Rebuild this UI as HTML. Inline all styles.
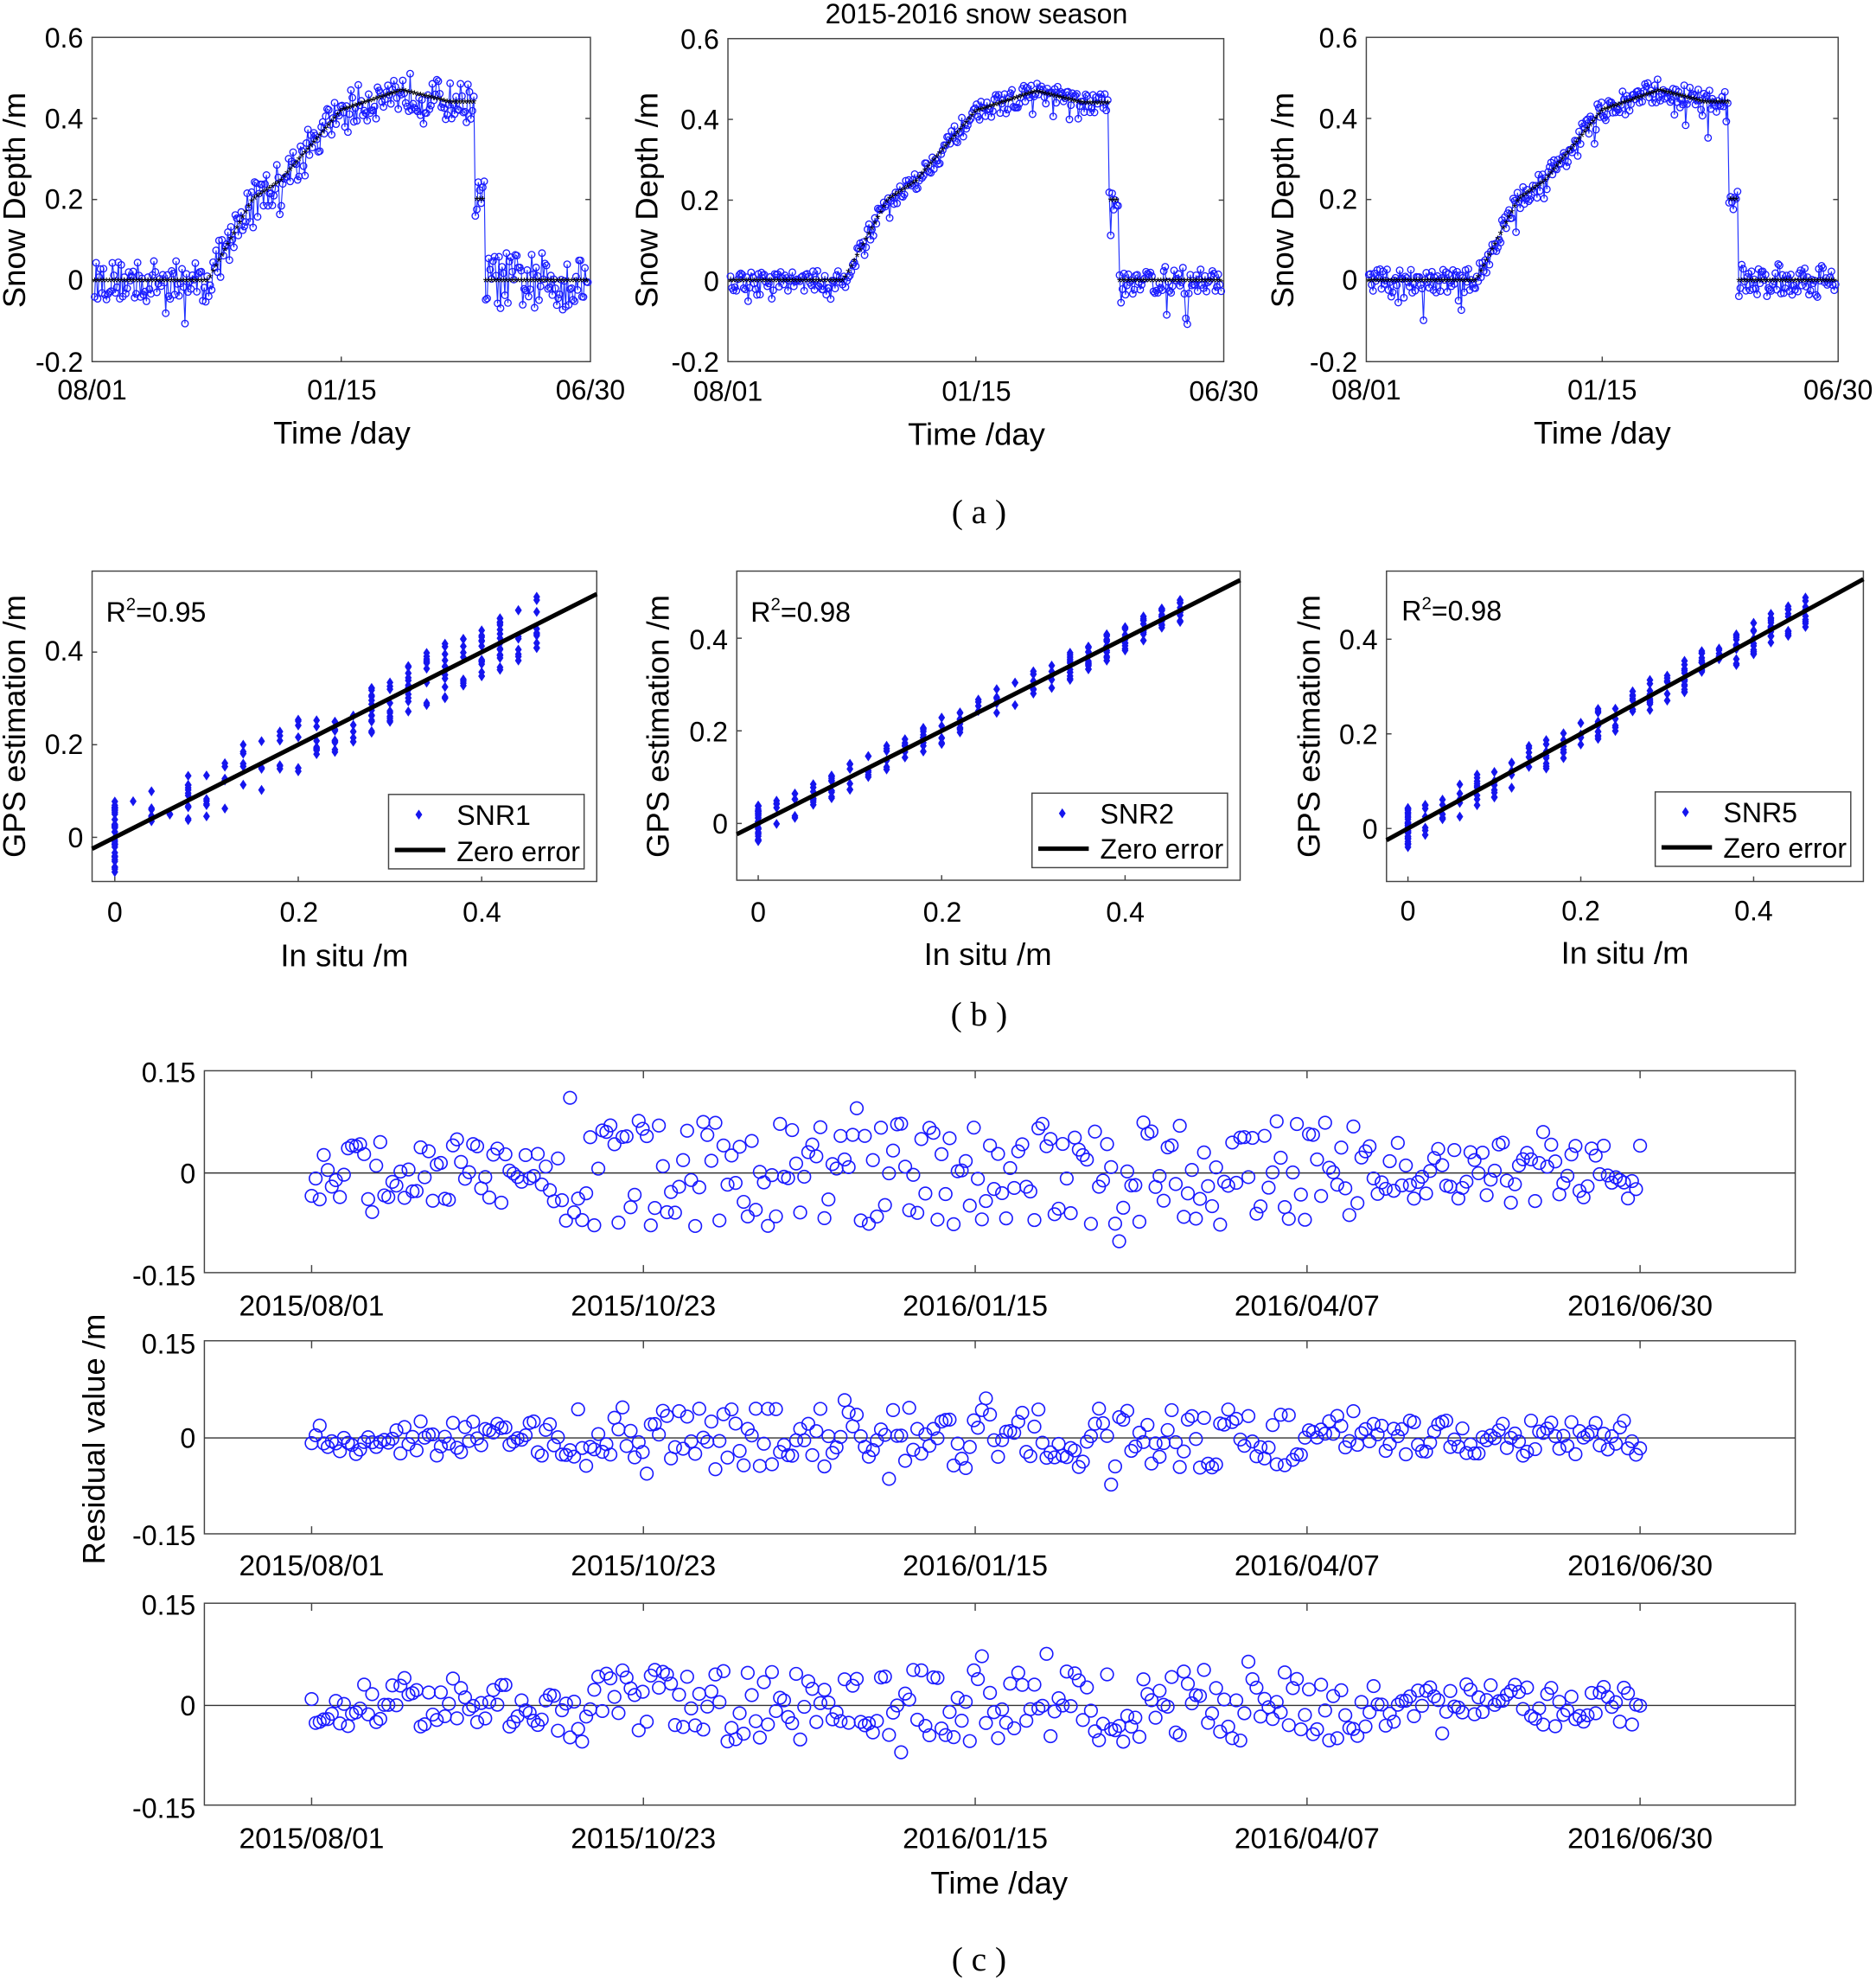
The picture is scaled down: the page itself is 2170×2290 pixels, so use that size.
<!DOCTYPE html>
<html><head><meta charset="utf-8"><style>
html,body{margin:0;padding:0;background:#fff}
svg{display:block}
text{font-family:"Liberation Sans",sans-serif;fill:#000}
.s{font-family:"Liberation Serif",serif}
</style></head><body>
<svg id="s" width="2170" height="2290" viewBox="0 0 1487 1568" xmlns="http://www.w3.org/2000/svg">
<g id="g"></g>
<g font-size="22">
<text x="774" y="18" text-anchor="middle">2015-2016 snow season</text>
<g text-anchor="end">
<text x="66" y="37">0.6</text><text x="66" y="101">0.4</text><text x="66" y="165">0.2</text><text x="66" y="229">0</text><text x="66" y="294">-0.2</text>
<text x="570" y="38">0.6</text><text x="570" y="102">0.4</text><text x="570" y="166">0.2</text><text x="570" y="230">0</text><text x="570" y="294">-0.2</text>
<text x="1076" y="37">0.6</text><text x="1076" y="101">0.4</text><text x="1076" y="165">0.2</text><text x="1076" y="229">0</text><text x="1076" y="294">-0.2</text>
</g>
<g text-anchor="middle">
<text x="73" y="316">08/01</text><text x="271" y="316">01/15</text><text x="468" y="316">06/30</text>
<text x="577" y="317">08/01</text><text x="774" y="317">01/15</text><text x="970" y="317">06/30</text>
<text x="1083" y="316">08/01</text><text x="1270" y="316">01/15</text><text x="1457" y="316">06/30</text>
<text x="271" y="351" font-size="25">Time /day</text><text x="774" y="352" font-size="25">Time /day</text><text x="1270" y="351" font-size="25">Time /day</text>
<text transform="translate(20,158) rotate(-90)" font-size="25">Snow Depth /m</text>
<text transform="translate(521,158) rotate(-90)" font-size="25">Snow Depth /m</text>
<text transform="translate(1025,158) rotate(-90)" font-size="25">Snow Depth /m</text>
<text x="776" y="414" class="s" font-size="27">( a )</text>
</g>
<g text-anchor="end">
<text x="66" y="523">0.4</text><text x="66" y="597">0.2</text><text x="66" y="671">0</text>
<text x="577" y="514">0.4</text><text x="577" y="587">0.2</text><text x="577" y="660">0</text>
<text x="1092" y="514">0.4</text><text x="1092" y="589">0.2</text><text x="1092" y="664">0</text>
</g>
<g text-anchor="middle">
<text x="91" y="730">0</text><text x="237" y="730">0.2</text><text x="382" y="730">0.4</text>
<text x="601" y="730">0</text><text x="747" y="730">0.2</text><text x="892" y="730">0.4</text>
<text x="1116" y="729">0</text><text x="1253" y="729">0.2</text><text x="1390" y="729">0.4</text>
<text x="273" y="765" font-size="25">In situ /m</text><text x="783" y="764" font-size="25">In situ /m</text><text x="1288" y="763" font-size="25">In situ /m</text>
<text transform="translate(20,575) rotate(-90)" font-size="25">GPS estimation /m</text>
<text transform="translate(530,575) rotate(-90)" font-size="25">GPS estimation /m</text>
<text transform="translate(1046,575) rotate(-90)" font-size="25">GPS estimation /m</text>
<text x="776" y="812" class="s" font-size="27">( b )</text>
</g>
<text x="84" y="492">R<tspan dy="-9" font-size="14">2</tspan><tspan dy="9">=0.95</tspan></text>
<text x="595" y="492">R<tspan dy="-9" font-size="14">2</tspan><tspan dy="9">=0.98</tspan></text>
<text x="1111" y="491">R<tspan dy="-9" font-size="14">2</tspan><tspan dy="9">=0.98</tspan></text>
<text x="362" y="653">SNR1</text><text x="362" y="682">Zero error</text>
<text x="872" y="652">SNR2</text><text x="872" y="680">Zero error</text>
<text x="1366" y="651">SNR5</text><text x="1366" y="679">Zero error</text>
<g text-anchor="end">
<text x="155" y="857">0.15</text><text x="155" y="937">0</text><text x="155" y="1018">-0.15</text>
<text x="155" y="1072">0.15</text><text x="155" y="1147">0</text><text x="155" y="1224">-0.15</text>
<text x="155" y="1279">0.15</text><text x="155" y="1359">0</text><text x="155" y="1440">-0.15</text>
</g>
<g text-anchor="middle" font-size="23">
<text x="247" y="1042">2015/08/01</text><text x="510" y="1042">2015/10/23</text><text x="773" y="1042">2016/01/15</text><text x="1036" y="1042">2016/04/07</text><text x="1300" y="1042">2016/06/30</text>
<text x="247" y="1248">2015/08/01</text><text x="510" y="1248">2015/10/23</text><text x="773" y="1248">2016/01/15</text><text x="1036" y="1248">2016/04/07</text><text x="1300" y="1248">2016/06/30</text>
<text x="247" y="1464">2015/08/01</text><text x="510" y="1464">2015/10/23</text><text x="773" y="1464">2016/01/15</text><text x="1036" y="1464">2016/04/07</text><text x="1300" y="1464">2016/06/30</text>
<text x="792" y="1500" font-size="25">Time /day</text>
<text transform="translate(83,1140) rotate(-90)" font-size="25">Residual value /m</text>
<text x="776" y="1561" class="s" font-size="27">( c )</text>
</g>
</g>
</svg>
<script>
(function(){
var NS="http://www.w3.org/2000/svg",g=document.getElementById("g");
var seed=12345;function r(){seed=(seed*16807)%2147483647;return seed/2147483647;}
function el(t,a){var e=document.createElementNS(NS,t);for(var k in a)e.setAttribute(k,a[k]);g.appendChild(e);return e;}
function box(x0,y0,x1,y1){el("rect",{x:x0,y:y0,width:x1-x0,height:y1-y0,fill:"none",stroke:"#444","stroke-width":1});}
function prof(t){if(t<0.23)return 0;if(t<0.32)return (t-0.23)/0.09*0.2;if(t<0.38)return 0.2+(t-0.32)*0.8;if(t<0.5)return 0.25+(t-0.38)/0.12*0.17;
 if(t<0.62)return 0.42+(t-0.5)*0.4;if(t<0.72)return 0.47-(t-0.62)*0.3;if(t<0.77)return 0.44;if(t<0.79)return 0.2;return 0;}
var A=[[73,468,29,286,0.05],[577,970,30,286,0.025],[1083,1457,29,286,0.03]];
A.forEach(function(p,pi){var x0=p[0],x1=p[1],yt=p[2],yb=p[3],nz=p[4];box(x0,yt,x1,yb);
 function Y(v){return yb-(v+0.2)/0.8*(yb-yt);}
 [0.4,0.2,0,-0.2].forEach(function(v){el("line",{x1:x0,x2:x0+4,y1:Y(v),y2:Y(v),stroke:"#444"});el("line",{x1:x1,x2:x1-4,y1:Y(v),y2:Y(v),stroke:"#444"});});
 var xm=(x0+x1)/2;el("line",{x1:xm,x2:xm,y1:yb,y2:yb-4,stroke:"#444"});
 var d="",pts=[],n=334;
 for(var i=0;i<n;i++){var t=i/(n-1),v=prof(t)+(r()-0.5)*2*nz*(t>0.79?1.4:1);if(r()<0.08)v-=r()*0.08;
  var x=x0+2+t*(x1-x0-4),y=Y(v);pts.push([x,y]);d+=(i?"L":"M")+x.toFixed(1)+" "+y.toFixed(1);}
 el("path",{d:d,fill:"none",stroke:"#2233ff","stroke-width":0.8});
 pts.forEach(function(q){el("circle",{cx:q[0],cy:q[1],r:2.6,fill:"none",stroke:"#1a1aff","stroke-width":0.9});});
 for(var i=0;i<n;i+=2){var t=i/(n-1),v=prof(t);el("text",{x:x0+2+t*(x1-x0-4),y:Y(v)+5,"font-size":11,"text-anchor":"middle",fill:"#000"}).textContent="*";}
});
var B=[[73,473,452,698,91,727,663,367,0.06,1],[584,983,452,697,601,727,652,367,0.03,2],[1099,1477,452,698,1116,685,656,375,0.035,5]];
B.forEach(function(p,pi){var x0=p[0],x1=p[1],yt=p[2],yb=p[3];box(x0,yt,x1,yb);
 function X(v){return p[4]+v*p[5];}function Y(v){return p[6]-v*p[7];}
 [0,0.2,0.4].forEach(function(v){el("line",{x1:X(v),x2:X(v),y1:yb,y2:yb-4,stroke:"#444"});el("line",{x1:x0,x2:x0+4,y1:Y(v),y2:Y(v),stroke:"#444"});});
 var lo=(x0-p[4])/p[5],hi=(x1-p[4])/p[5];
 for(var i=0;i<230;i++){var s;var u=r();if(u<0.15)s=0;else if(u<0.25)s=r()*0.1;else s=Math.pow(r(),0.6)*0.47;
  s=Math.round(s*50)/50;
  var e=s+(r()-0.5)*2*p[8]*(s==0?1.3:1);
  var cx=X(s),cy=Y(e);el("path",{d:"M"+cx+" "+(cy-4)+"L"+(cx+2.7)+" "+cy+"L"+cx+" "+(cy+4)+"L"+(cx-2.7)+" "+cy+"Z",fill:"#1515ee"});}
 el("line",{x1:x0,y1:Y(lo),x2:x1,y2:Y(hi),stroke:"#000","stroke-width":3.5});
 var lx=[308,818,1312][pi],ly=[629,628,627][pi],lw=155;
 el("rect",{x:lx,y:ly,width:lw,height:59,fill:"#fff",stroke:"#444"});
 el("path",{d:"M"+(lx+24)+" "+(ly+12)+"l2.7 4l-2.7 4l-2.7 -4Z",fill:"#1515ee"});
 el("line",{x1:lx+5,x2:lx+45,y1:ly+44,y2:ly+44,stroke:"#000","stroke-width":3.5});
});
var C=[[848,1008,929,540,0.065],[1062,1215,1139,508,0.04],[1270,1430,1351,537,0.045]];
C.forEach(function(p){var yt=p[0],yb=p[1],y0=p[2],sc=p[3];box(162,yt,1423,yb);
 el("line",{x1:162,x2:1423,y1:y0,y2:y0,stroke:"#333","stroke-width":1});
 [247,510,773,1036,1300].forEach(function(x){el("line",{x1:x,x2:x,y1:yb,y2:yb-6,stroke:"#444"});el("line",{x1:x,x2:x,y1:yt,y2:yt+6,stroke:"#444"});});
 for(var i=0;i<330;i++){var x=247+i*(1300-247)/329;var a=p[4]*(i>60&&i<260?1.2:0.7);
  var v=(r()-0.5)*2*a;if(r()<0.05)v*=1.6;if(v>0.14)v=0.14;if(v<-0.14)v=-0.14;
  el("circle",{cx:x,cy:y0-v*sc,r:5,fill:"none",stroke:"#1a1aff","stroke-width":1.1});}
});
})();
</script>
</body></html>
